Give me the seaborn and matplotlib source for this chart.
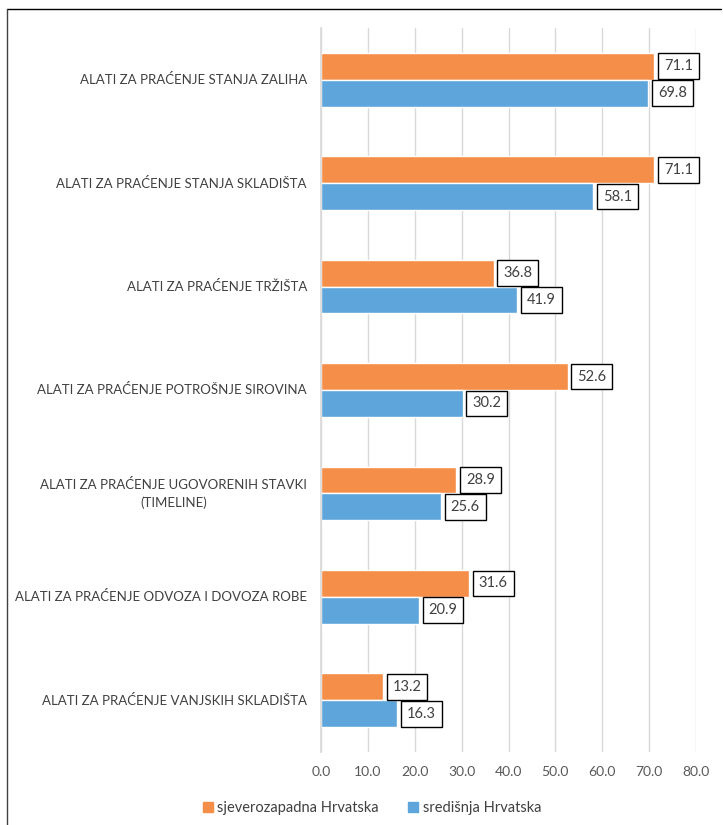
import matplotlib
matplotlib.use("Agg")
import matplotlib.pyplot as plt
import seaborn as sns
import pandas as pd
from matplotlib.lines import Line2D
from matplotlib.patches import Patch
from matplotlib.transforms import blended_transform_factory, offset_copy

categories = [
    "ALATI ZA PRAĆENJE STANJA ZALIHA",
    "ALATI ZA PRAĆENJE STANJA SKLADIŠTA",
    "ALATI ZA PRAĆENJE TRŽIŠTA",
    "ALATI ZA PRAĆENJE POTROŠNJE SIROVINA",
    "ALATI ZA PRAĆENJE UGOVORENIH STAVKI\n(TIMELINE)",
    "ALATI ZA PRAĆENJE ODVOZA I DOVOZA ROBE",
    "ALATI ZA PRAĆENJE VANJSKIH SKLADIŠTA",
]
series_names = ["sjeverozapadna Hrvatska", "središnja Hrvatska"]
sjeverozapadna = [71.1, 71.1, 36.8, 52.6, 28.9, 31.6, 13.2]
sredisnja = [69.8, 58.1, 41.9, 30.2, 25.6, 20.9, 16.3]
x_ticks = [0, 10, 20, 30, 40, 50, 60, 70, 80]
colors = ["#F58E48", "#5DA5DA"]

sns.set_theme(style="white")
plt.rcParams["font.family"] = ["Lato", "DejaVu Sans"]

df = pd.DataFrame({
    "category": categories * 2,
    "series": [series_names[0]] * len(categories) + [series_names[1]] * len(categories),
    "value": sjeverozapadna + sredisnja,
})

fig = plt.figure(figsize=(7.23, 8.25), dpi=100)
ax = fig.add_axes([321 / 723, 1 - 752 / 825, (696 - 321) / 723, (752 - 28) / 825])

sns.barplot(data=df, y="category", x="value", hue="series", order=categories,
            hue_order=series_names, palette=colors, width=0.52, ax=ax,
            legend=False, saturation=1, errorbar=None)

ax.set_xlim(0, 80)
ax.set_xticks(x_ticks)
ax.set_xticklabels([f"{v:.1f}" for v in x_ticks], fontsize=10, color="#595959")
ax.set_yticks(range(len(categories)))
ax.set_yticklabels([])
ax.tick_params(axis="y", length=0)
ax.tick_params(axis="x", length=0, pad=10)

trans = offset_copy(blended_transform_factory(ax.transAxes, ax.transData),
                    fig=fig, x=-14, y=0, units="dots")
for i, cat in enumerate(categories):
    ax.text(0, i, cat, transform=trans, ha="right", va="center",
            multialignment="center", fontsize=9.5, color="#404040", linespacing=1.5)

ax.set_xlabel("")
ax.set_ylabel("")
ax.grid(axis="x", color="#D9D9D9", linewidth=1)
ax.set_axisbelow(True)
for s in ax.spines.values():
    s.set_visible(False)
ax.spines["left"].set_visible(True)
ax.spines["left"].set_color("#D9D9D9")

for container in ax.containers:
    ax.bar_label(container, fmt="%.1f", padding=7, fontsize=10.5, color="#404040",
                 bbox=dict(boxstyle="square,pad=0.4", fc="white", ec="black", lw=1))

handles = [Patch(color=c, label=n) for c, n in zip(colors, series_names)]
fig.legend(handles=handles, loc="center", bbox_to_anchor=(372 / 723, 1 - 808 / 825),
           ncol=2, frameon=False, fontsize=10.5, handlelength=0.7, handleheight=0.7,
           handletextpad=0.3, columnspacing=2.0, labelcolor="#404040")

fig.add_artist(Line2D([7 / 723, 721 / 723], [1 - 9 / 825, 1 - 9 / 825], color="black", lw=1))
fig.add_artist(Line2D([7 / 723, 7 / 723], [1 - 9 / 825, 0], color="#404040", lw=1))

fig.savefig("out.png", dpi=100, facecolor="white")
